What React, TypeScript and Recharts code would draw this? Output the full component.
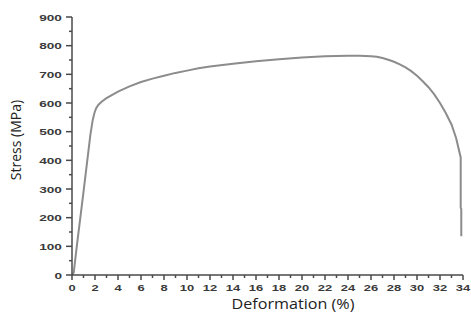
import { LineChart, Line, XAxis, YAxis, Label } from "recharts";

// strain (%) and stress (MPa)
const strain = [0, 0.15, 0.4, 1, 1.6, 1.8, 1.95, 2.1, 2.3, 2.6, 3, 4, 5, 6, 7, 8, 9, 10, 11, 12, 14, 16, 18, 20, 22, 24, 25, 26, 26.5, 27, 27.5, 28, 28.5, 29, 29.5, 30, 30.5, 31, 31.5, 32, 32.5, 33, 33.4, 33.8, 33.8, 33.85, 33.85];
const stress = [0, 8, 95, 290, 490, 540, 565, 582, 594, 605, 617, 640, 658, 673, 685, 695, 705, 713, 721, 727, 737, 746, 753, 759, 763, 765, 765, 763, 761, 757, 751, 744, 735, 724, 711, 695, 676, 655, 630, 600, 565, 525, 478, 410, 235, 230, 135];

const xTicks = [0, 1, 2, 3, 4, 5, 6, 7, 8, 9, 10, 11, 12, 13, 14, 15, 16, 17, 18, 19, 20, 21, 22, 23, 24, 25, 26, 27, 28, 29, 30, 31, 32, 33, 34];
const xLabels = [0, 2, 4, 6, 8, 10, 12, 14, 16, 18, 20, 22, 24, 26, 28, 30, 32, 34];
const yTicks = [0, 50, 100, 150, 200, 250, 300, 350, 400, 450, 500, 550, 600, 650, 700, 750, 800, 850, 900];
const yLabels = [0, 100, 200, 300, 400, 500, 600, 700, 800, 900];

const data = strain.map((s, i) => ({ strain: s, stress: stress[i] }));

const axisColor = "#4a4a4a";
const tickFont = "'Liberation Sans', Arial, sans-serif";

function XTick(props: any) {
  const { x, y, payload } = props;
  const major = xLabels.includes(payload.value);
  const txt = String(payload.value);
  return (
    <g>
      <line x1={x} x2={x} y1={y} y2={y + (major ? 5 : 3)} stroke={axisColor} strokeWidth={1.5} />
      {major && (
        <text x={x} y={y + 16} textAnchor="middle" fontFamily={tickFont} fontWeight="bold" fontSize={9.5}
          fill="#3a3a3a" textLength={txt.length * 7.2} lengthAdjust="spacingAndGlyphs">
          {txt}
        </text>
      )}
    </g>
  );
}

function YTick(props: any) {
  const { x, y, payload } = props;
  const major = yLabels.includes(payload.value);
  const txt = String(payload.value);
  return (
    <g>
      <line x1={x} x2={x - (major ? 6 : 3)} y1={y} y2={y} stroke={axisColor} strokeWidth={1.5} />
      {major && (
        <text x={x - 10} y={y + 3.5} textAnchor="end" fontFamily={tickFont} fontWeight="bold" fontSize={9.5}
          fill="#3a3a3a" textLength={txt.length * 7.6} lengthAdjust="spacingAndGlyphs">
          {txt}
        </text>
      )}
    </g>
  );
}

export default function App() {
  return (
    <div style={{ position: "absolute", left: 0, top: 0, background: "#fff" }}>
      <LineChart width={471} height={323} data={data} margin={{ top: 17, right: 8, bottom: 0, left: 0 }}>
        <XAxis dataKey="strain" type="number" domain={[0, 34]} ticks={xTicks} interval={0}
          height={48} tickSize={0} tickMargin={0} tickLine={false} tick={<XTick />}
          axisLine={{ stroke: axisColor, strokeWidth: 1.5 }}>
          <Label content={() => (
            <text x={293} y={309} textAnchor="middle" fontFamily="'Open Sans', sans-serif" fontSize={14}
              fill="#222" textLength={123} lengthAdjust="spacingAndGlyphs">
              Deformation (%)
            </text>
          )} />
        </XAxis>
        <YAxis type="number" domain={[0, 900]} ticks={yTicks} interval={0} width={72}
          tickSize={0} tickMargin={0} tickLine={false} tick={<YTick />}
          axisLine={{ stroke: axisColor, strokeWidth: 1.5 }}>
          <Label content={() => (
            <text x={21} y={140} textAnchor="middle" transform="rotate(-90 21 140)"
              fontFamily="'Open Sans', sans-serif" fontSize={14} fill="#222">
              Stress (MPa)
            </text>
          )} />
        </YAxis>
        <Line type="linear" dataKey="stress" stroke="#8c8c8c" strokeWidth={2} dot={false} isAnimationActive={false} />
      </LineChart>
    </div>
  );
}
